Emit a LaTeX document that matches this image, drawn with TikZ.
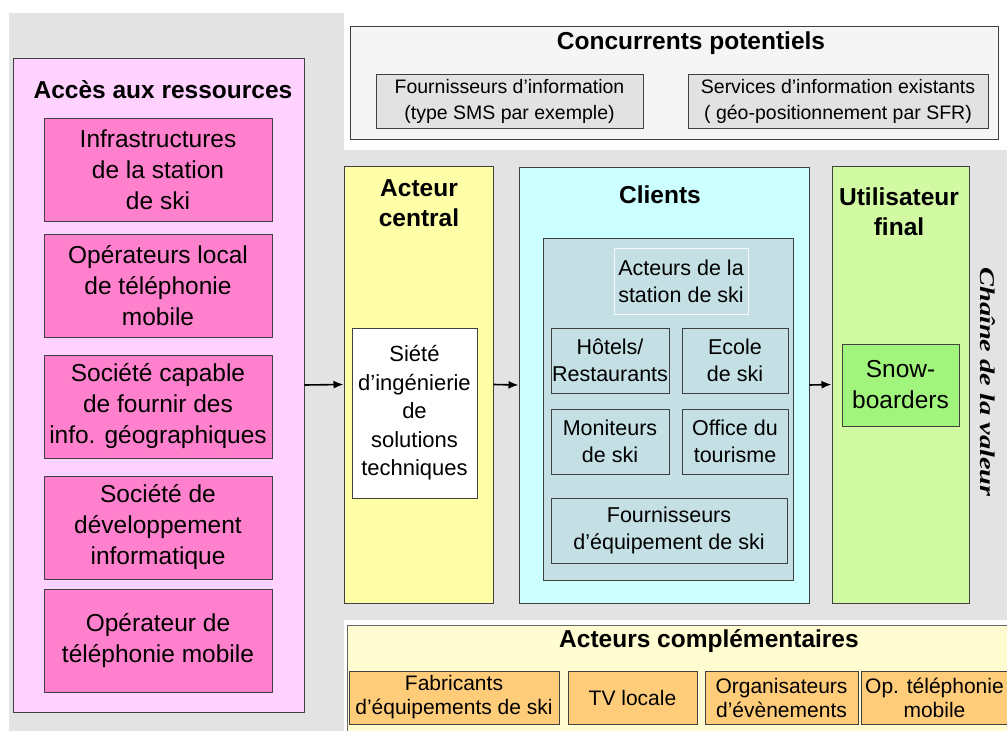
\documentclass[tikz,border=0pt]{standalone}
\usepackage{fontspec}
\setmainfont{Liberation Serif}
\setsansfont{Liberation Sans}
\renewcommand{\familydefault}{\sfdefault}
\usepackage{tikz}
\usetikzlibrary{calc}
\usetikzlibrary{arrows.meta}

\definecolor{fondgris}{HTML}{E3E3E3}
\definecolor{bordgris}{HTML}{404040}
\definecolor{roseclair}{HTML}{FFD2FF}
\definecolor{rosefonce}{HTML}{FF80CC}
\definecolor{jaune}{HTML}{FFFFA8}
\definecolor{cyanclair}{HTML}{CCFFFF}
\definecolor{bleugris}{HTML}{C4E0E4}
\definecolor{vertclair}{HTML}{D2FAA2}
\definecolor{vertfonce}{HTML}{A2F57C}
\definecolor{jaunepale}{HTML}{FFFCD2}
\definecolor{orangeclair}{HTML}{FFCC7A}
\definecolor{grisclair}{HTML}{E2E2E2}
\definecolor{grisblanc}{HTML}{F5F5F5}

\tikzset{
  cadre/.style={draw=bordgris, line width=1pt, inner sep=0pt, align=center},
  titre/.style={inner sep=0pt, align=center,
    font=\fontsize{24.5}{30}\selectfont\bfseries},
  texte/.style={font=\fontsize{24.5}{31}\selectfont},
  petit/.style={font=\fontsize{22}{28.5}\selectfont},
  client/.style={cadre, fill=bleugris, minimum height=65pt,
    font=\fontsize{21.5}{27}\selectfont},
  compl/.style={cadre, fill=orangeclair, minimum height=53pt,
    font=\fontsize{21}{24}\selectfont},
  concur/.style={cadre, fill=grisclair, minimum height=54pt,
    font=\fontsize{19.5}{26}\selectfont},
  fleche/.style={-{Latex[length=10pt,width=8pt]}, line width=1.6pt},
}

\begin{document}
\begin{tikzpicture}[x=1pt, y=-1pt]
	\useasboundingbox (0,0) rectangle (1007,731);

	%% Fond gris, avec les deux zones blanches (haut et bas)
	\fill[fondgris] (9,13) rectangle (1007,731);
	\fill[white] (344,0) rectangle (1007,150);
	\fill[white] (344,620) rectangle (1007,731);

	%% Concurrents potentiels (en haut)
	\node[cadre, fill=grisblanc, minimum width=648pt, minimum height=113pt]
	  (concur) at (674,82.5) {};
	\node[titre] (tconcur) at (691,43) {Concurrents potentiels};
	\node[concur, minimum width=267pt] (fourninfo) at (509.5,101)
	  {Fournisseurs d’information\\(type SMS par exemple)};
	\node[concur, minimum width=300pt] (services) at (838,101)
	  {Services d’information existants\\( géo-positionnement par SFR)};

	%% Acces aux ressources (a gauche)
	\node[cadre, fill=roseclair, minimum width=291pt, minimum height=654pt]
	  (acces) at (158.5,385) {};
	\node[titre] (tacces) at (163,90) {Accès aux ressources};
	\foreach \y/\t [count=\i] in {
	    169.5/{Infrastructures\\ de la station\\ de ski},
	    285.5/{Opérateurs local\\ de téléphonie\\ mobile},
	    406.5/{Société capable\\ de fournir des\\ info. géographiques},
	    527.5/{Société de\\ développement\\ informatique},
	    640.5/{Opérateur de\\ téléphonie mobile}}
	{
	  \node[cadre, texte, fill=rosefonce, minimum width=228pt,
	    minimum height=103pt] (res\i) at (158,\y) {\t};
	}

	%% Acteur central
	\node[cadre, fill=jaune, minimum width=149pt, minimum height=437pt]
	  (central) at (418.5,384.5) {};
	\node[titre] (tcentral) at (419,203) {Acteur\\central};
	\node[cadre, petit, fill=white, minimum width=125pt, minimum height=170pt]
	  (siete) at (414.5,413) {Siété\\d’ingénierie\\de\\solutions\\techniques};

	%% Clients
	\node[cadre, fill=cyanclair, minimum width=290pt, minimum height=436pt]
	  (clients) at (664,385) {};
	\node[titre] (tclients) at (660,195) {Clients};
	\node[cadre, fill=bleugris, minimum width=250pt, minimum height=342pt]
	  (station) at (668,409) {};
	\node[client, draw=white!85!bleugris, minimum width=134pt, minimum height=66pt]
	  (acteurs) at (681,281) {Acteurs de la\\station de ski};
	\node[client, minimum width=118pt] (hotels) at (610,360.5)
	  {Hôtels/\\Restaurants};
	\node[client, minimum width=106pt] (ecole) at (735,360.5) {Ecole\\de ski};
	\node[client, minimum width=118pt] (moniteurs) at (610,441.5)
	  {Moniteurs\\de ski};
	\node[client, minimum width=106pt] (office) at (735,441.5)
	  {Office du\\tourisme};
	\node[client, minimum width=236pt] (equip) at (669,530.5)
	  {Fournisseurs\\d’équipement de ski};

	%% Utilisateur final
	\node[cadre, fill=vertclair, minimum width=137pt, minimum height=437pt]
	  (user) at (900.5,384.5) {};
	\node[titre] (tuser) at (899,212) {Utilisateur\\final};
	\node[cadre, texte, fill=vertfonce, minimum width=117pt, minimum height=82pt]
	  (snow) at (900.5,385) {Snow-\\boarders};

	% texte vertical a droite
	\node[rotate=-90, inner sep=0pt,
	  font=\rmfamily\bfseries\itshape\fontsize{21}{24}\selectfont]
	  (chaine) at (988,382) {\scalebox{1.35}[1]{Chaîne de la valeur}};

	%% Fleches de la chaine
	\draw[fleche] (acces.east) -- (central.west);
	\draw[fleche] (central.east) -- (clients.west);
	\draw[fleche] (clients.east) -- (user.west);

	%% Acteurs complementaires (en bas)
	\node[cadre, draw=bordgris!80, fill=jaunepale, minimum width=665pt,
	  minimum height=111pt] (compl) at (679.5,680.5) {};
	\node[titre] (tcompl) at (709,641) {Acteurs complémentaires};
	\node[compl, minimum width=210pt] (fabric) at (454,697.5)
	  {Fabricants\\d’équipements de ski};
	\node[compl, minimum width=129pt] (tv) at (632.5,697.5) {TV locale};
	\node[compl, minimum width=153pt] (orga) at (781.5,697.5)
	  {Organisateurs\\d’évènements};
	\node[compl, minimum width=147pt] (optel) at (934.5,697.5)
	  {Op. téléphonie\\mobile};
\end{tikzpicture}
\end{document}
